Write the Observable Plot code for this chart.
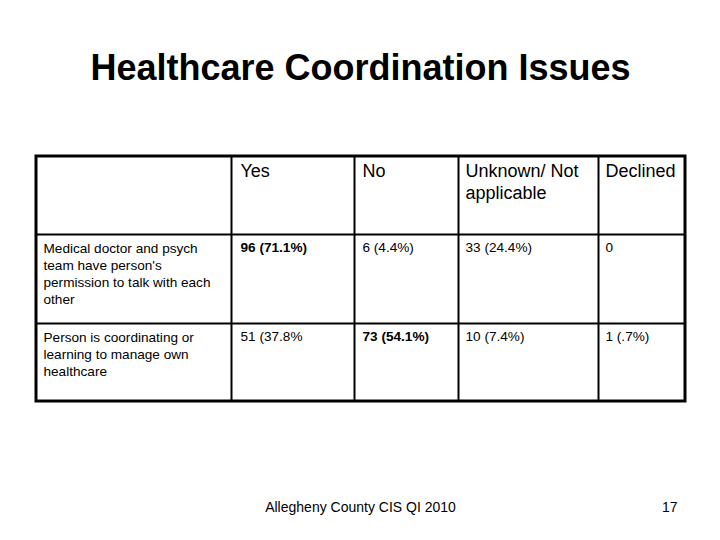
<!DOCTYPE html>
<html>
<head>
<meta charset="utf-8">
<script src="https://cdn.jsdelivr.net/npm/d3@7"></script>
<script src="https://cdn.jsdelivr.net/npm/@observablehq/plot@0.6"></script>
<style>
  html, body { margin: 0; padding: 0; background: #fff; }
</style>
</head>
<body>
<div id="chart"></div>
<script>
// ---- data ----
const title = "Healthcare Coordination Issues";
const footer = "Allegheny County CIS QI 2010";
const pageNumber = "17";
const columns = ["", "Yes", "No", "Unknown/ Not\napplicable", "Declined"];
const rowLabels = [
  "Medical doctor and psych\nteam have person's\npermission to talk with each\nother",
  "Person is coordinating or\nlearning to manage own\nhealthcare"
];
const yesValues = ["96 (71.1%)", "51 (37.8%"];
const noValues = ["6 (4.4%)", "73 (54.1%)"];
const unknownValues = ["33 (24.4%)", "10 (7.4%)"];
const declinedValues = ["0", "1 (.7%)"];
const boldCells = [[true, false, false, false], [false, true, false, false]];

// ---- layout (page units) ----
const W = 720, H = 540;
const colEdges = [36, 231, 354, 458, 598, 685];
const rowEdges = [156, 234, 323, 401];
const padX = [7, 9, 8, 7, 7];
const font = "'Liberation Sans', Arial, Helvetica, sans-serif";

const valueCols = [yesValues, noValues, unknownValues, declinedValues];
const headerCells = columns.map((t, i) => ({x: colEdges[i] + padX[i], y: rowEdges[0] + 5, text: t}));
const labelCells = rowLabels.map((t, r) => ({x: colEdges[0] + padX[0], y: rowEdges[r + 1] + 6, text: t}));
const valueCells = [];
valueCols.forEach((vals, c) => vals.forEach((t, r) => valueCells.push({
  x: colEdges[c + 1] + padX[c + 1], y: rowEdges[r + 1] + 8, text: t, bold: boldCells[r][c]
})));

const chart = Plot.plot({
  width: W, height: H,
  margin: 0,
  x: {type: "linear", domain: [0, W], range: [0, W], axis: null},
  y: {type: "linear", domain: [0, H], range: [0, H], axis: null},
  style: {fontFamily: font, background: "#fff", color: "#000"},
  marks: [
    Plot.text([title], {x: W / 2, y: 68, text: d => d, fontSize: 36, fontWeight: "bold", fill: "#000"}),
    // inner grid
    Plot.ruleX(colEdges.slice(1, -1), {x: d => d, y1: rowEdges[0], y2: rowEdges[rowEdges.length - 1], stroke: "#000", strokeWidth: 2}),
    Plot.ruleY(rowEdges.slice(1, -1), {y: d => d, x1: colEdges[0], x2: colEdges[colEdges.length - 1], stroke: "#000", strokeWidth: 2}),
    // outer frame
    Plot.rect([0], {x1: colEdges[0], x2: colEdges[colEdges.length - 1], y1: rowEdges[0], y2: rowEdges[rowEdges.length - 1], fill: "none", stroke: "#000", strokeWidth: 3}),
    // header
    Plot.text(headerCells, {x: "x", y: "y", text: "text", textAnchor: "start", lineAnchor: "top", fontSize: 18, lineHeight: 1.22, fill: "#000"}),
    // row labels
    Plot.text(labelCells, {x: "x", y: "y", text: "text", textAnchor: "start", lineAnchor: "top", fontSize: 13.6, lineHeight: 1.25, fill: "#000"}),
    // values
    Plot.text(valueCells.filter(d => !d.bold), {x: "x", y: "y", text: "text", textAnchor: "start", lineAnchor: "top", fontSize: 13.6, fill: "#000"}),
    Plot.text(valueCells.filter(d => d.bold), {x: "x", y: "y", text: "text", textAnchor: "start", lineAnchor: "top", fontSize: 13.6, fontWeight: "bold", fill: "#000"}),
    // footer
    Plot.text([footer], {x: 360, y: 507, text: d => d, fontSize: 14, fill: "#000"}),
    Plot.text([pageNumber], {x: 677, y: 507, text: d => d, textAnchor: "end", fontSize: 14, fill: "#000"})
  ]
});
document.getElementById("chart").appendChild(chart);
</script>
</body>
</html>
